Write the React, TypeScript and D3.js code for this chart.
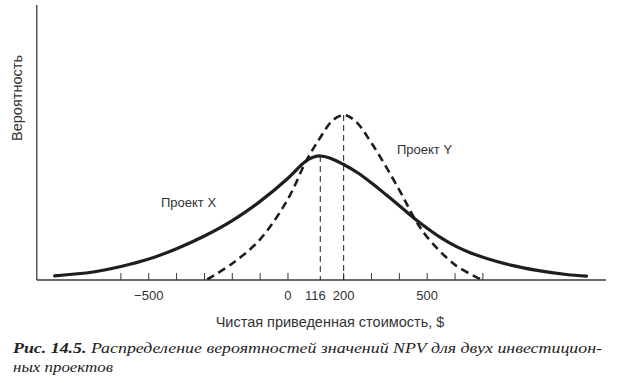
import React from "react";
import * as d3 from "d3";

// NPV values ($) and relative probability (0–100 scale of the axis height)
const projectXNpv = [-838, -700, -600, -500, -400, -300, -200, -100, 0, 30, 60, 90, 116, 150, 200, 250, 300, 350, 400, 455, 500, 550, 600, 650, 700, 800, 900, 1000, 1072];
const projectXProb = [1.5, 2.9, 4.9, 7.6, 11.4, 16.0, 21.6, 28.6, 37.0, 40.0, 42.9, 44.6, 45.1, 44.4, 42.0, 39.0, 35.3, 31.2, 27.0, 22.3, 18.8, 15.3, 12.4, 10.1, 8.3, 5.4, 3.4, 2.0, 1.4];

const projectYNpv = [-290, -200, -100, 0, 67, 116, 160, 200, 240, 300, 400, 455, 500, 600, 690];
const projectYProb = [0.2, 6.0, 14.8, 29.5, 43.6, 51.8, 58.0, 60.0, 58.0, 49.8, 32.7, 22.3, 15.6, 5.5, 0.4];

const tickValues = [-600, -500, -400, -300, -200, -100, 0, 200, 300, 400, 500, 600, 700];
const tickLabels = [
  { value: -500, label: "\u2212500" },
  { value: 0, label: "0" },
  { value: 116, label: "116" },
  { value: 200, label: "200" },
  { value: 500, label: "500" },
];
const meanX = 116;
const meanY = 200;

const W = 617;
const H = 383;

export default function App() {
  const x = d3.scaleLinear().domain([-600, 700]).range([120.9, 482.9]);
  const y = d3.scaleLinear().domain([0, 100]).range([280, 5]);

  const line = d3
    .line<[number, number]>()
    .x((d) => x(d[0]))
    .y((d) => y(d[1]))
    .curve(d3.curveCatmullRom.alpha(0.5));

  const xData = projectXNpv.map((v, i) => [v, projectXProb[i]] as [number, number]);
  const yData = projectYNpv.map((v, i) => [v, projectYProb[i]] as [number, number]);

  const peakX = projectXProb[projectXNpv.indexOf(meanX)];
  const peakY = projectYProb[projectYNpv.indexOf(meanY)];

  const axisColor = "#3a3a3a";
  const ink = "#1e1e1e";
  const sans = "'Liberation Sans', Arial, sans-serif";
  const serif = "'Liberation Serif', 'DejaVu Serif', serif";

  return (
    <svg
      width={W}
      height={H}
      viewBox={`0 0 ${W} ${H}`}
      style={{ position: "absolute", left: 0, top: 0, background: "#fff" }}
    >
      {/* axes */}
      <line x1={36.8} y1={5} x2={36.8} y2={y(0)} stroke={axisColor} strokeWidth={1.3} />
      <line x1={36.8} y1={y(0)} x2={606} y2={y(0)} stroke={axisColor} strokeWidth={1.6} />
      {tickValues.map((t) => (
        <line key={t} x1={x(t)} x2={x(t)} y1={y(0)} y2={y(0) - 7} stroke={axisColor} strokeWidth={1} />
      ))}

      {/* mean guides */}
      <line x1={x(meanX)} x2={x(meanX)} y1={y(peakX)} y2={y(0)} stroke={ink} strokeWidth={1} strokeDasharray="6 4" />
      <line x1={x(meanY)} x2={x(meanY)} y1={y(peakY)} y2={y(0)} stroke={ink} strokeWidth={1} strokeDasharray="6 4" />

      {/* curves */}
      <path d={line(xData) || ""} fill="none" stroke={ink} strokeWidth={3.2} strokeLinecap="round" />
      <path d={line(yData) || ""} fill="none" stroke={ink} strokeWidth={2.6} strokeDasharray="8 5" />

      {/* labels */}
      <text x={161} y={206.5} fontFamily={sans} fontSize={13} fill="#333">Проект X</text>
      <text x={397} y={154} fontFamily={sans} fontSize={13} fill="#333">Проект Y</text>

      {tickLabels.map((t) => (
        <text
          key={t.value}
          x={t.value === 116 ? x(t.value) - 5 : x(t.value)}
          y={300}
          textAnchor="middle"
          fontFamily={sans}
          fontSize={13}
          fill="#333"
        >
          {t.label}
        </text>
      ))}

      <text x={330} y={327} textAnchor="middle" fontFamily={sans} fontSize={14.5} fill="#333">
        Чистая приведенная стоимость, $
      </text>
      <text
        transform="translate(22,98) rotate(-90)"
        textAnchor="middle"
        fontFamily={sans}
        fontSize={14.5}
        fill="#333"
      >
        Вероятность
      </text>

      {/* caption */}
      <text x={13} y={353} fontFamily={serif} fontSize={15.5} fill="#222" textLength={589} lengthAdjust="spacingAndGlyphs">
        <tspan fontWeight="bold" fontStyle="italic">Рис. 14.5.</tspan>
        <tspan fontStyle="italic"> Распределение вероятностей значений NPV для двух инвестицион-</tspan>
      </text>
      <text x={13} y={372} fontFamily={serif} fontSize={15.5} fontStyle="italic" fill="#222" textLength={100} lengthAdjust="spacingAndGlyphs">
        ных проектов
      </text>
    </svg>
  );
}
